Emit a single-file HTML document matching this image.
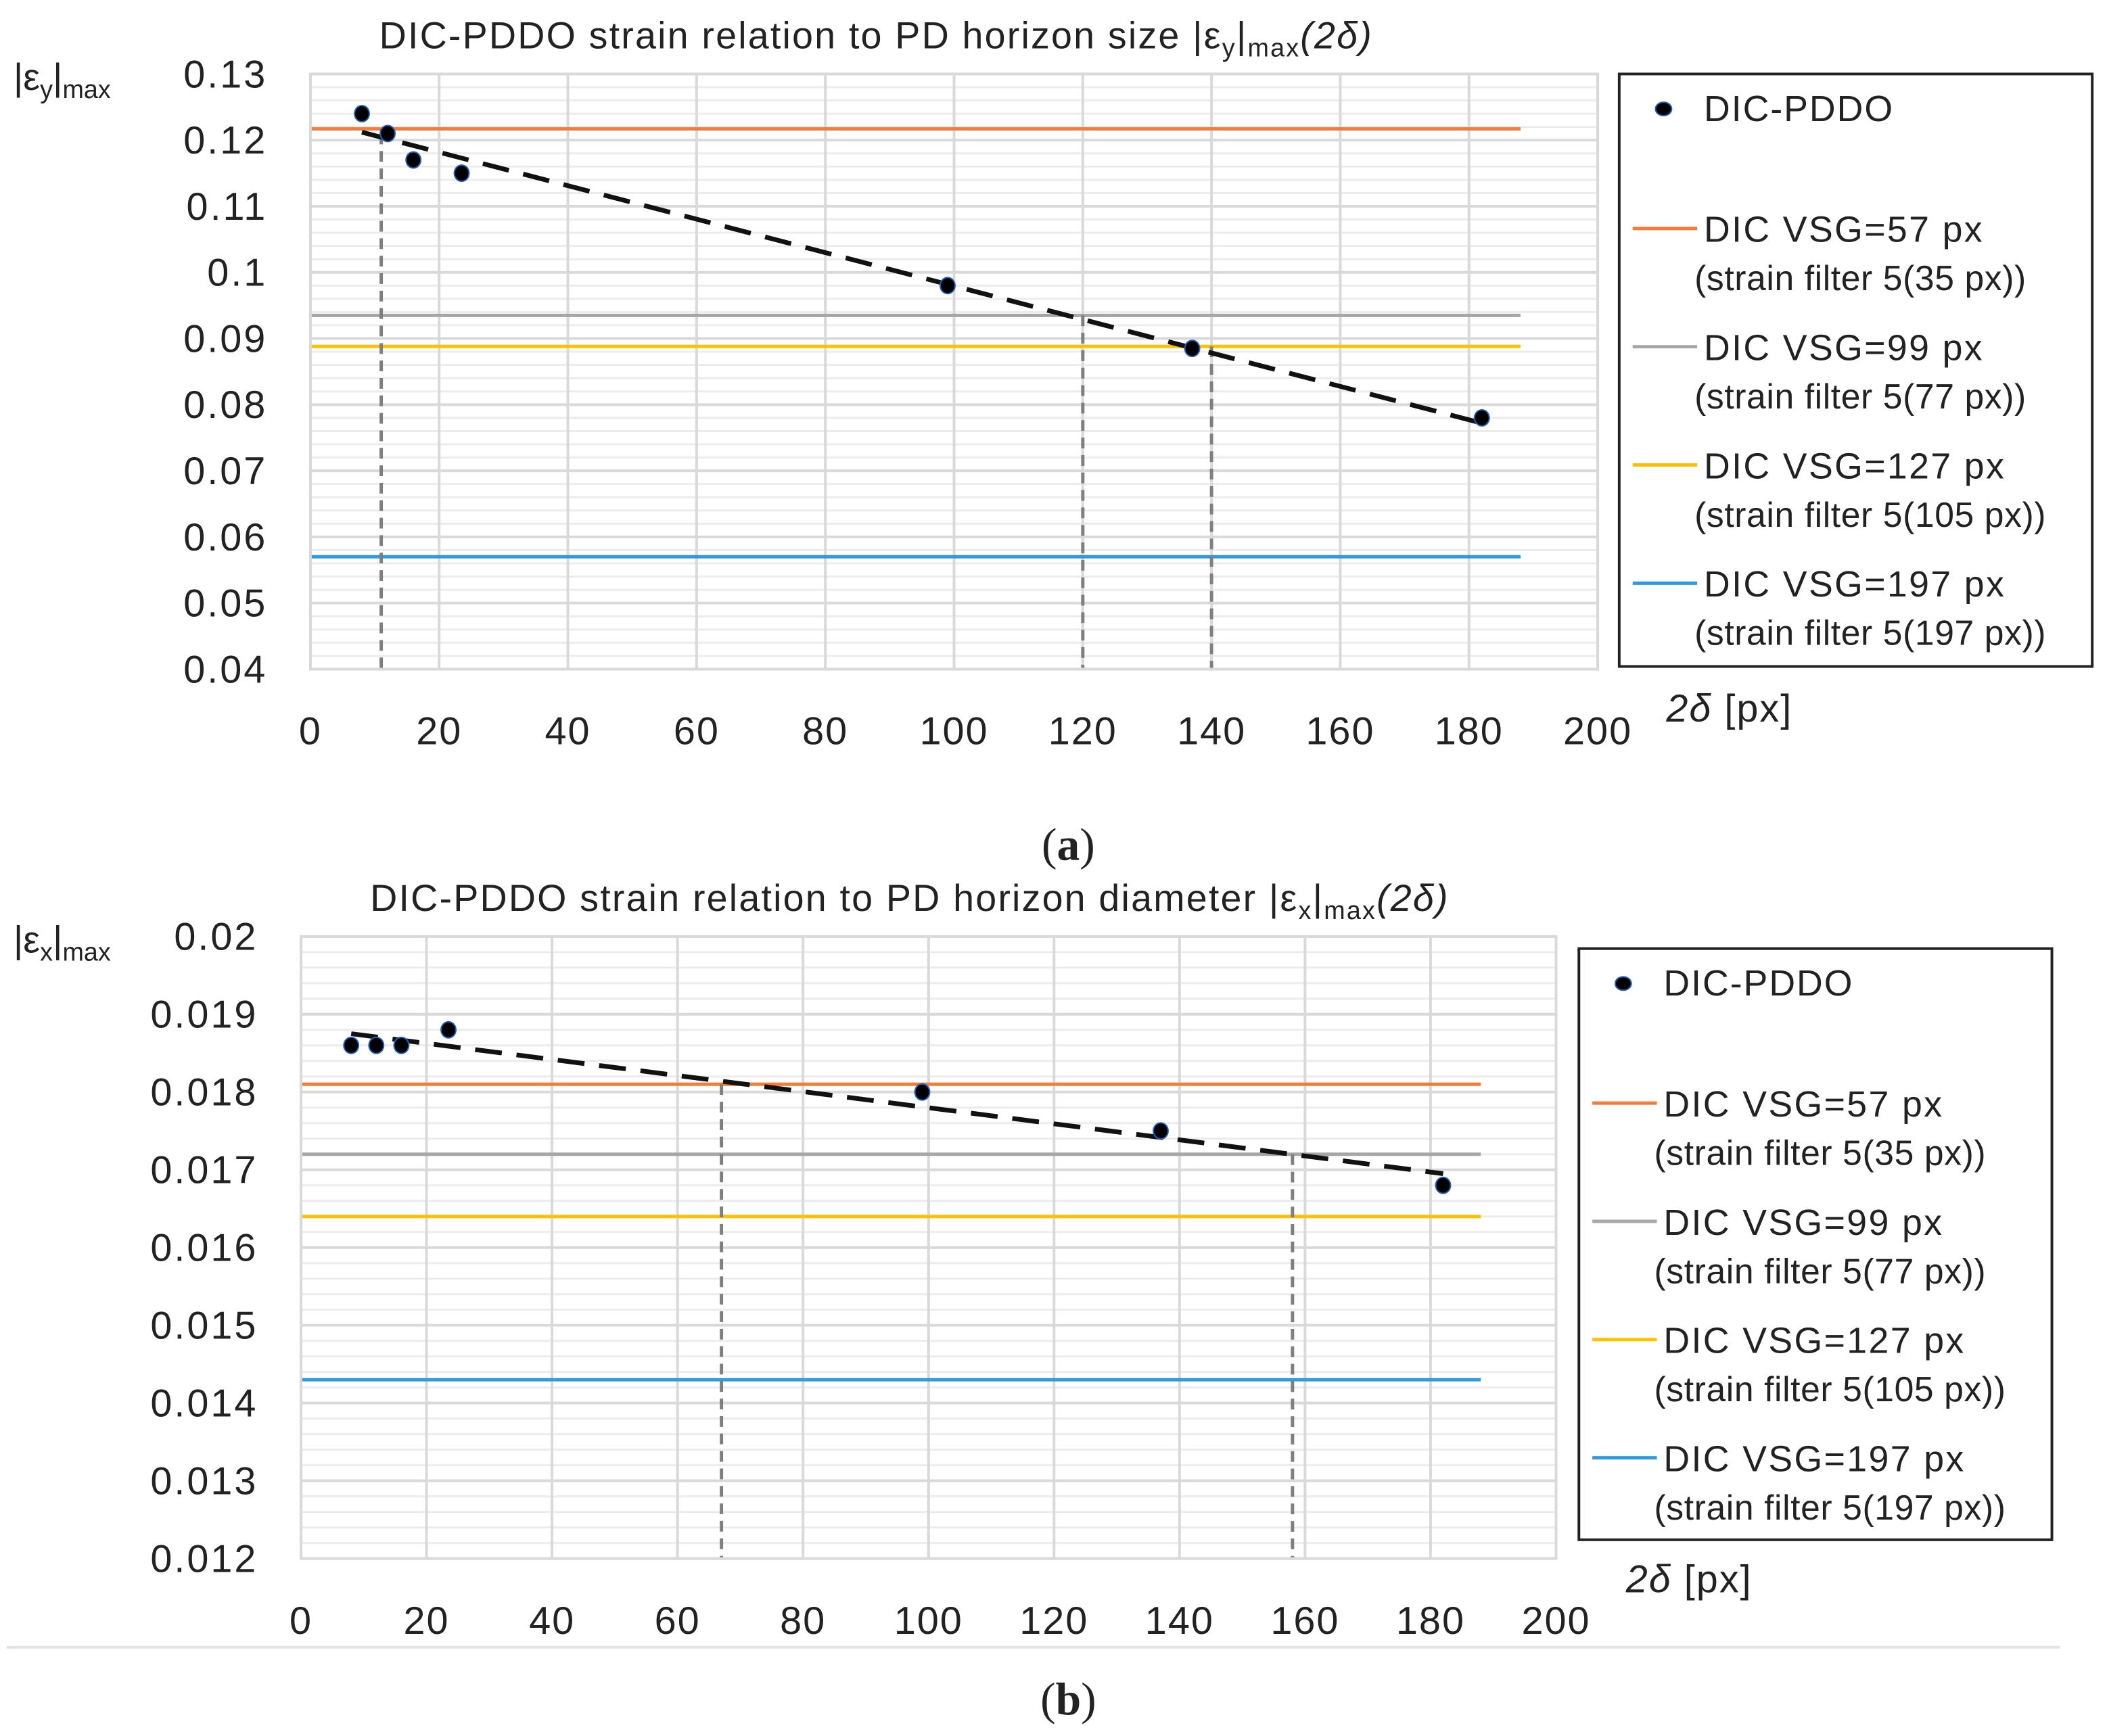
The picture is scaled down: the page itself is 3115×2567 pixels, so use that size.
<!DOCTYPE html>
<html><head><meta charset="utf-8">
<style>
html,body{margin:0;padding:0;background:#fff;}
svg{display:block;}
text{font-family:"Liberation Sans","DejaVu Sans",sans-serif;fill:#222;}
</style></head>
<body>
<svg id="fig" width="3115" height="2567" viewBox="0 0 1568 1292" xmlns="http://www.w3.org/2000/svg">
<rect x="0" y="0" width="1568" height="1292" fill="#fff"/>
<line x1="5" y1="1226" x2="1533" y2="1226" stroke="#e4e4e4" stroke-width="2"/>
<text x="795" y="640" text-anchor="middle" style="font-family:'Liberation Serif',serif;font-size:34px">(<tspan font-weight="bold">a</tspan>)</text>
<text x="795" y="1276" text-anchor="middle" style="font-family:'Liberation Serif',serif;font-size:34px">(<tspan font-weight="bold">b</tspan>)</text>
<g id="chartA"></g>
<g id="chartB"></g>
</svg>
<script>
// ---- Chart A data ----
const aXTicks = [0,20,40,60,80,100,120,140,160,180,200];
const aYTicks = [0.04,0.05,0.06,0.07,0.08,0.09,0.1,0.11,0.12,0.13];
const aYTickLabels = ["0.04","0.05","0.06","0.07","0.08","0.09","0.1","0.11","0.12","0.13"];
const aPointsX = [8,12,16,23.5,99,137,182];
const aPointsY = [0.124,0.121,0.117,0.115,0.098,0.0885,0.078];
const aTrendX = [8,182];
const aTrendY = [0.1212,0.0772];
const aRefValues = [0.1217,0.0935,0.0888,0.057];
const aDropX = [11,120,140];
const aDropY = [0.121,0.0935,0.0888];
// ---- Chart B data ----
const bXTicks = [0,20,40,60,80,100,120,140,160,180,200];
const bYTicks = [0.012,0.013,0.014,0.015,0.016,0.017,0.018,0.019,0.02];
const bYTickLabels = ["0.012","0.013","0.014","0.015","0.016","0.017","0.018","0.019","0.02"];
const bPointsX = [8,12,16,23.5,99,137,182];
const bPointsY = [0.0186,0.0186,0.0186,0.0188,0.0180,0.0175,0.0168];
const bTrendX = [8,182];
const bTrendY = [0.01875,0.01695];
const bRefValues = [0.0181,0.0172,0.0164,0.0143];
const bDropX = [67,158];
const bDropY = [0.0181,0.0172];
// shared
const refNames = ["DIC VSG=57 px","DIC VSG=99 px","DIC VSG=127 px","DIC VSG=197 px"];
const refSubs = ["(strain filter 5(35  px))","(strain filter 5(77  px))","(strain filter 5(105 px))","(strain filter 5(197 px))"];
const refColors = ["#f47b3a","#a6a6a6","#ffc000","#2e9be0"];

const NS="http://www.w3.org/2000/svg";
function mk(parent,tag,attrs,txt){const e=document.createElementNS(NS,tag);for(const k in attrs)e.setAttribute(k,attrs[k]);if(txt!==undefined)e.textContent=txt;parent.appendChild(e);return e;}

function draw(g,c){
  const sx=v=>c.x0+(v-c.xmin)/(c.xmax-c.xmin)*(c.x1-c.x0);
  const sy=v=>c.y0-(v-c.ymin)/(c.ymax-c.ymin)*(c.y0-c.y1);
  const nMinor=(c.yTicks.length-1)*c.minorPer;
  for(let i=0;i<=nMinor;i++){
    const v=c.ymin+(c.ymax-c.ymin)*i/nMinor;
    const l=mk(g,'line',{x1:c.x0,x2:c.x1,y1:sy(v),y2:sy(v),stroke:'#ececec','stroke-width':1.5});
    
    
  }
  c.yTicks.forEach((v,i)=>{
    const l=mk(g,'line',{x1:c.x0,x2:c.x1,y1:sy(v),y2:sy(v),stroke:'#d9d9d9','stroke-width':2});
    
    
    const t=mk(g,'text',{x:c.x0-32,y:sy(v)+10,'text-anchor':'end','font-size':29,'letter-spacing':1.5},c.yLabels[i]);
    
    
  });
  c.xTicks.forEach(v=>{
    const l=mk(g,'line',{x1:sx(v),x2:sx(v),y1:c.y1,y2:c.y0,stroke:'#d9d9d9','stroke-width':2});
    
    
    const t=mk(g,'text',{x:sx(v),y:c.y0+56,'text-anchor':'middle','font-size':29,'letter-spacing':1},String(v));
    
    
  });
  c.refs.forEach((v,i)=>{
    const l=mk(g,'line',{x1:c.x0,x2:sx(188),y1:sy(v),y2:sy(v),stroke:refColors[i],'stroke-width':2.5});
    
    
  });
  c.dropX.forEach((v,i)=>{
    const l=mk(g,'line',{x1:sx(v),x2:sx(v),y1:sy(c.dropY[i]),y2:c.y0,stroke:'#7f7f7f','stroke-width':2.5,'stroke-dasharray':'8,5'});
    
    
  });
  const tr=mk(g,'line',{x1:sx(c.trendX[0]),y1:sy(c.trendY[0]),x2:sx(c.trendX[1]),y2:sy(c.trendY[1]),stroke:'#111','stroke-width':3.5,'stroke-dasharray':'20,11'});
  
  
  c.px.forEach((v,i)=>{
    const p=mk(g,'ellipse',{cx:sx(v),cy:sy(c.py[i]),rx:5.5,ry:6,fill:'#000',stroke:'#1f5fbf','stroke-width':1});
    
    
  });
  const tt=mk(g,'text',{x:c.titleX,y:c.titleY,'text-anchor':'middle','font-size':28,'letter-spacing':1.1});
  
  
  mk(tt,'tspan',{},c.title+' |ε');
  mk(tt,'tspan',{'font-size':19,dy:6},c.sym);
  mk(tt,'tspan',{dy:-6},'|');
  mk(tt,'tspan',{'font-size':19,dy:6},'max');
  mk(tt,'tspan',{dy:-6,'font-style':'italic'},'(2δ)');
  const yt=mk(g,'text',{x:10,y:c.y1+12,'font-size':28});
  
  
  mk(yt,'tspan',{},'|ε');
  mk(yt,'tspan',{'font-size':19,dy:6},c.sym);
  mk(yt,'tspan',{dy:-6},'|');
  mk(yt,'tspan',{'font-size':19,dy:6},'max');
  const xt=mk(g,'text',{x:c.xtX,y:c.xtY,'font-size':29,'letter-spacing':1});
  
  
  mk(xt,'tspan',{'font-style':'italic'},'2δ');
  mk(xt,'tspan',{},' [px]');
  const L=c.leg;
  const lb=mk(g,'rect',{x:L.x,y:L.y,width:L.w,height:L.h,fill:'#fff',stroke:'#222','stroke-width':2});
  
  
  const ld=mk(g,'ellipse',{cx:L.x+33,cy:L.y+26,rx:6,ry:5,fill:'#000',stroke:'#1f5fbf','stroke-width':1});
  
  
  const lt=mk(g,'text',{x:L.x+63,y:L.y+35,'font-size':27,'letter-spacing':1},'DIC-PDDO');
  
  
  refNames.forEach((n,i)=>{
    const y=L.y+115+i*88;
    const sw=mk(g,'line',{x1:L.x+10,x2:L.x+58,y1:y,y2:y,stroke:refColors[i],'stroke-width':2.5});
    
    
    const t1=mk(g,'text',{x:L.x+63,y:y+10,'font-size':27,'letter-spacing':1.2},n);
    
    
    const t2=mk(g,'text',{x:L.x+56,y:y+46,'font-size':26,'letter-spacing':0.3},refSubs[i]);
    
    
  });
  const bd=mk(g,'rect',{x:c.x0,y:c.y1,width:c.x1-c.x0,height:c.y0-c.y1,fill:'none',stroke:'#d9d9d9','stroke-width':2});
  
  
}

draw(document.getElementById('chartA'),{
  x0:231,x1:1189,y0:498,y1:55,xmin:0,xmax:200,ymin:0.04,ymax:0.13,minorPer:5,
  xTicks:aXTicks,yTicks:aYTicks,yLabels:aYTickLabels,px:aPointsX,py:aPointsY,
  trendX:aTrendX,trendY:aTrendY,refs:aRefValues,dropX:aDropX,dropY:aDropY,
  title:'DIC-PDDO strain relation to PD horizon size',sym:'y',titleX:652,titleY:36,
  xtX:1240,xtY:537,leg:{x:1205,y:55,w:352,h:441}
});
draw(document.getElementById('chartB'),{
  x0:224,x1:1158,y0:1160,y1:697,xmin:0,xmax:200,ymin:0.012,ymax:0.02,minorPer:5,
  xTicks:bXTicks,yTicks:bYTicks,yLabels:bYTickLabels,px:bPointsX,py:bPointsY,
  trendX:bTrendX,trendY:bTrendY,refs:bRefValues,dropX:bDropX,dropY:bDropY,
  title:'DIC-PDDO strain relation to PD horizon diameter',sym:'x',titleX:677,titleY:678,
  xtX:1210,xtY:1185,leg:{x:1175,y:706,w:352,h:440}
});
</script>
</body></html>
